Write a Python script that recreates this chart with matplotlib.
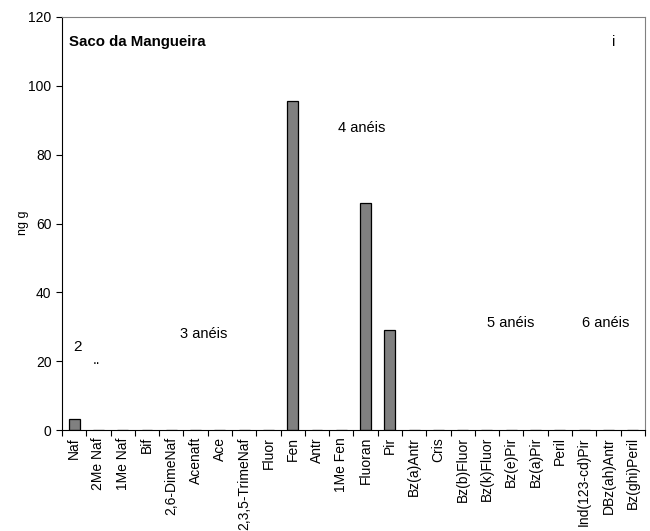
import numpy as np
import matplotlib.pyplot as plt

plt.rcParams['font.family'] = ['Liberation Sans', 'DejaVu Sans']

# PAH concentrations
compostos = ["Naf", "2Me Naf", "1Me Naf", "Bif", "2,6-DimeNaf", "Acenaft", "Ace",
             "2,3,5-TrimeNaf", "Fluor", "Fen", "Antr", "1Me Fen", "Fluoran", "Pir",
             "Bz(a)Antr", "Cris", "Bz(b)Fluor", "Bz(k)Fluor", "Bz(e)Pir", "Bz(a)Pir",
             "Peril", "Ind(123-cd)Pir", "DBz(ah)Antr", "Bz(ghi)Peril"]
valores = [3.2, 0, 0, 0, 0, 0, 0, 0, 0, 95.5, 0, 0, 66, 29,
           0, 0, 0, 0, 0, 0, 0, 0, 0, 0]

fig = plt.figure(figsize=(6.5, 5.31), dpi=100)
ax = fig.add_axes([0.0954, 0.19, 0.8966, 0.778])

x = np.arange(len(compostos))
ax.bar(x, valores, width=0.45, color="#808080", edgecolor="black", linewidth=0.9)

ax.set_xlim(-0.5, len(compostos) - 0.5)
ax.set_ylim(0, 120)
ax.set_yticks(range(0, 121, 20))
ax.tick_params(axis="y", direction="out", length=4, labelsize=10)

# boundary ticks between categories, labels at centres
ax.set_xticks(np.arange(-0.5, len(compostos), 1))
ax.set_xticklabels([])
ax.set_xticks(x, minor=True)
ax.set_xticklabels(compostos, minor=True, rotation=90, fontsize=10)
ax.tick_params(axis="x", which="major", direction="out", length=4)
ax.tick_params(axis="x", which="minor", length=0, pad=5)

for s in ["top", "right"]:
    ax.spines[s].set_color("#808080")
for s in ["left", "bottom"]:
    ax.spines[s].set_color("black")

fig.text(0.035, 0.58, "ng g", rotation=90, fontsize=9, ha="center", va="center")

ax.text(0.012, 0.939, "Saco da Mangueira", transform=ax.transAxes,
        fontsize=10.8, fontweight="bold", va="center")
ax.text(0.943, 0.939, "i", transform=ax.transAxes, fontsize=10.5, va="center")
ax.text(11.85, 87.8, "4 anéis", fontsize=10.5, ha="center", va="center")
ax.text(5.34, 28, "3 anéis", fontsize=10.5, ha="center", va="center")
ax.text(0.14, 24, "2", fontsize=11, ha="center", va="center")
ax.text(0.93, 20.5, "..", fontsize=10, ha="center", va="center")
ax.text(17.98, 31, "5 anéis", fontsize=10.5, ha="center", va="center")
ax.text(21.9, 31, "6 anéis", fontsize=10.5, ha="center", va="center")

fig.savefig("out.png", dpi=100)
